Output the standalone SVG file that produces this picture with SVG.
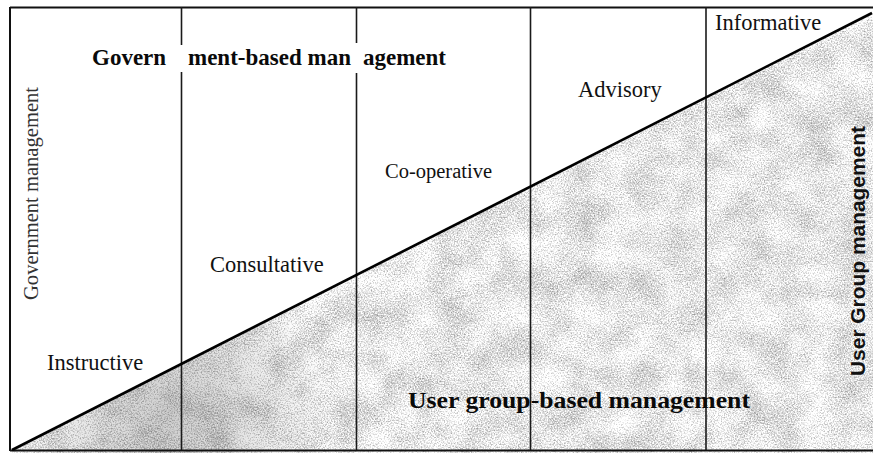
<svg xmlns="http://www.w3.org/2000/svg" width="873" height="453" viewBox="0 0 873 453">
  <style>
    .label { font-family: "Liberation Serif", "Times New Roman", serif; font-size: 22.5px; fill: #111; }
    .bold { font-family: "Liberation Serif", "Times New Roman", serif; font-weight: bold; fill: #0a0a0a; }
    .frame { stroke: #111; stroke-width: 2; fill: none; }
    .divider { stroke: #1a1a1a; stroke-width: 1.6; fill: none; }
    .diag { stroke: #000; stroke-width: 2.6; fill: none; }
  </style>
  <defs>
    <!-- region below the diagonal, inside the frame -->
    <clipPath id="lower">
      <polygon points="12,450 872,13 873,13 873,453 12,453"/>
    </clipPath>
    <!-- speckled halftone grain with soft mottled blotches -->
    <filter id="grain" filterUnits="userSpaceOnUse" x="0" y="0" width="873" height="453" color-interpolation-filters="sRGB">
      <feTurbulence type="fractalNoise" baseFrequency="0.7" numOctaves="2" seed="7" result="fineRaw"/>
      <feColorMatrix in="fineRaw" type="matrix" result="fine"
        values="1 0 0 0 0
                1 0 0 0 0
                1 0 0 0 0
                0 0 0 0 1"/>
      <feTurbulence type="fractalNoise" baseFrequency="0.03" numOctaves="3" seed="11" result="coarseRaw"/>
      <feColorMatrix in="coarseRaw" type="matrix" result="coarse"
        values="1 0 0 0 0
                1 0 0 0 0
                1 0 0 0 0
                0 0 0 0 1"/>
      <feComposite in="fine" in2="coarse" operator="arithmetic" k1="0" k2="0.75" k3="0.3" k4="0.38"/>
    </filter>
    <radialGradient id="darkPatch" gradientUnits="userSpaceOnUse" cx="170" cy="415" r="170">
      <stop offset="0" stop-color="#000" stop-opacity="0.2"/>
      <stop offset="0.6" stop-color="#000" stop-opacity="0.07"/>
      <stop offset="1" stop-color="#000" stop-opacity="0"/>
    </radialGradient>
  </defs>

  <rect width="873" height="453" fill="#fff"/>

  <!-- shaded user-group area -->
  <g id="shaded-area" clip-path="url(#lower)">
    <rect x="0" y="0" width="873" height="453" filter="url(#grain)"/>
    <rect x="0" y="0" width="873" height="453" fill="url(#darkPatch)"/>
  </g>

  <!-- outer frame -->
  <g id="frame">
    <line class="frame" x1="10" y1="7.5" x2="873" y2="7.5"/>
    <line class="frame" x1="10" y1="7" x2="10" y2="451"/>
    <line class="frame" x1="10" y1="450.5" x2="873" y2="450.5"/>
  </g>

  <!-- column dividers -->
  <g id="dividers">
    <line class="divider" x1="181.5" y1="7" x2="181.5" y2="45"/>
    <line class="divider" x1="181.5" y1="72" x2="181.5" y2="450"/>
    <line class="divider" x1="356.5" y1="7" x2="356.5" y2="43"/>
    <line class="divider" x1="356.5" y1="73" x2="356.5" y2="450"/>
    <line class="divider" x1="530.5" y1="7" x2="530.5" y2="450"/>
    <line class="divider" x1="706" y1="7" x2="706" y2="450"/>
  </g>

  <!-- boundary between the two management modes -->
  <g id="diagonal">
    <line class="diag" x1="12" y1="450" x2="872" y2="13"/>
  </g>

  <!-- mode labels -->
  <g id="instructive"><text class="label" x="47" y="370">Instructive</text></g>
  <g id="consultative"><text class="label" x="210" y="272">Consultative</text></g>
  <g id="co-operative"><text class="label" x="385" y="178" style="font-size:20.5px">Co-operative</text></g>
  <g id="advisory"><text class="label" x="578" y="97">Advisory</text></g>
  <g id="informative"><text class="label" x="715" y="30">Informative</text></g>

  <!-- headings -->
  <g id="government-based">
    <text class="bold" y="65" font-size="23"><tspan x="92">Govern</tspan><tspan x="188">ment-based man</tspan><tspan x="363">agement</tspan></text>
  </g>
  <g id="user-group-based">
    <text class="bold" x="408" y="408" font-size="24" textLength="342" lengthAdjust="spacingAndGlyphs">User group-based management</text>
  </g>

  <!-- side axis labels -->
  <g id="government-management">
    <text transform="translate(38,300) rotate(-90)" font-family="Liberation Serif, serif" font-size="20.5" fill="#333" textLength="213" lengthAdjust="spacingAndGlyphs">Government management</text>
  </g>
  <g id="user-group-management">
    <text transform="translate(865,376) rotate(-90)" font-family="Liberation Sans, Arial, sans-serif" font-weight="bold" font-size="21" fill="#111" textLength="250" lengthAdjust="spacingAndGlyphs">User Group management</text>
  </g>
</svg>
